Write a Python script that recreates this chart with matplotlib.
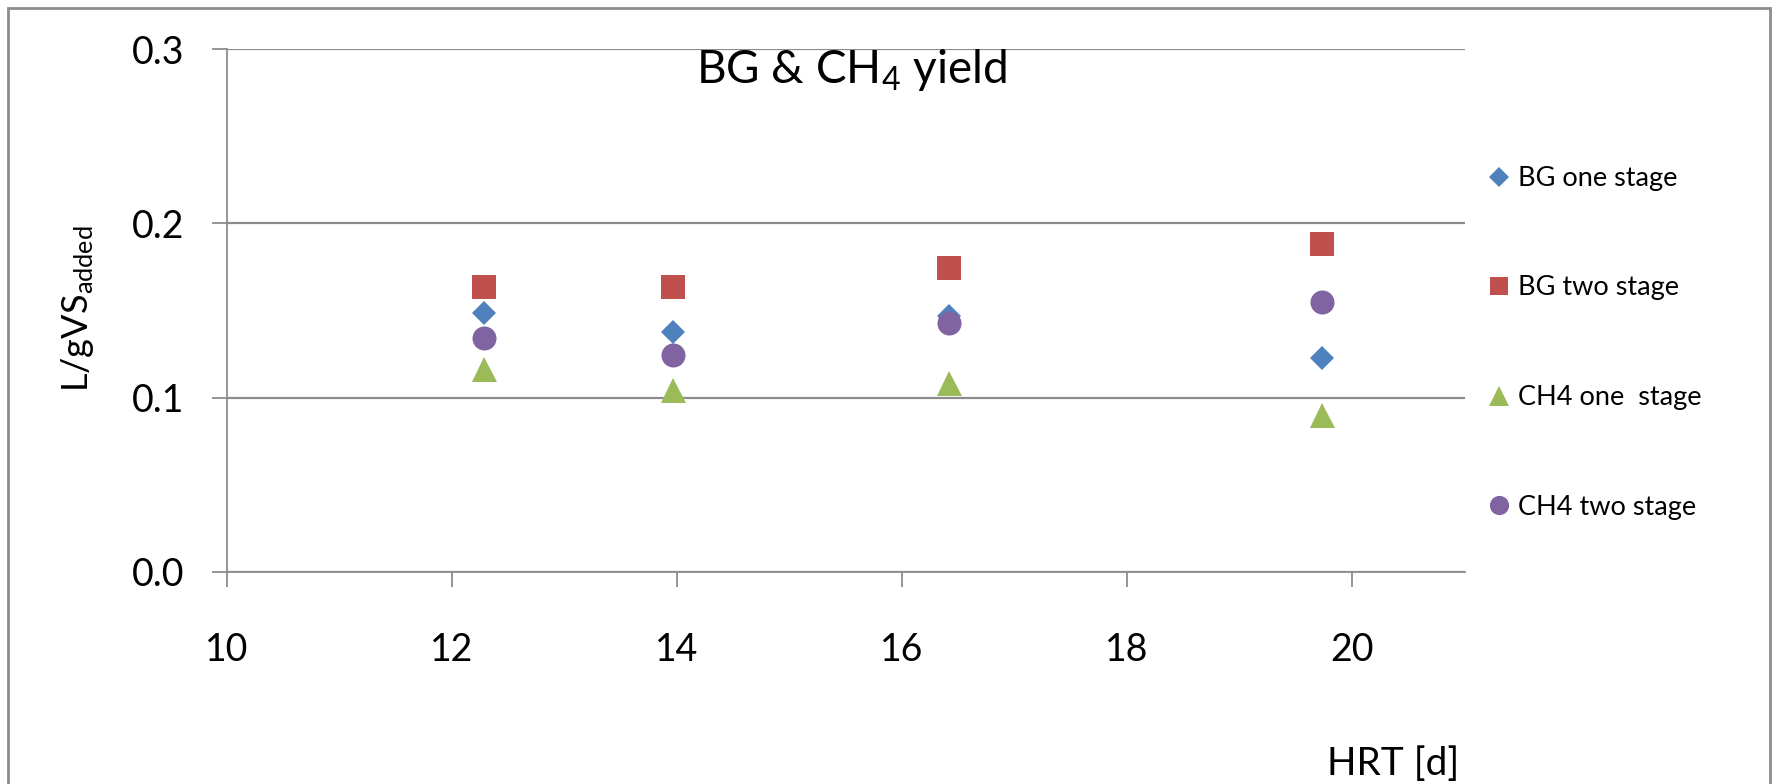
import matplotlib
matplotlib.use("Agg")
import matplotlib.pyplot as plt
from matplotlib.patches import Rectangle

plt.rcParams["font.family"] = ["Lato", "DejaVu Sans"]
plt.rcParams["mathtext.default"] = "regular"

# HRT [d] and yields [L/gVS added]
hrt = [12.29, 13.97, 16.42, 19.73]
bg_one = [0.1488, 0.1377, 0.1469, 0.1228]
bg_two = [0.1635, 0.1635, 0.1744, 0.1884]
ch4_one = [0.1165, 0.1044, 0.1084, 0.0901]
ch4_two = [0.1344, 0.1245, 0.1430, 0.1549]

series = [
    ("BG one stage", bg_one, "D", 12.7, "#4F81BD"),
    ("BG two stage", bg_two, "s", 17.0, "#C0504D"),
    ("CH4 one  stage", ch4_one, "^", 18.0, "#9BBB59"),
    ("CH4 two stage", ch4_two, "o", 17.3, "#8064A2"),
]

grey = "#8C8C8C"

fig = plt.figure(figsize=(17.77, 7.84), dpi=100)
ax = fig.add_axes([226.5 / 1777, 1 - 572 / 784, (1465 - 226.5) / 1777, 523 / 784])

for label, vals, mk, ms, col in series:
    ax.plot(hrt, vals, linestyle="none", marker=mk, markersize=ms,
            color=col, markeredgewidth=0, label=label, clip_on=False)

ax.set_xlim(10, 21)
ax.set_ylim(0, 0.3)
ax.set_xticks([10, 12, 14, 16, 18, 20])
ax.set_yticks([0.0, 0.1, 0.2, 0.3])
ax.set_yticklabels(["0.0", "0.1", "0.2", "0.3"])
ax.yaxis.grid(True, color=grey, linewidth=1.6)
ax.set_axisbelow(True)

for side in ["top", "right"]:
    ax.spines[side].set_visible(False)
for side in ["left", "bottom"]:
    ax.spines[side].set_color(grey)
    ax.spines[side].set_linewidth(1.3)

ax.tick_params(axis="both", direction="out", length=10.5, width=1.3,
               color=grey, labelsize=27)
ax.tick_params(axis="y", pad=20)
ax.tick_params(axis="x", pad=33)

fig.text(78 / 1777, 1 - 309 / 784, "L/gVS$_{added}$", fontsize=26,
         rotation=90, ha="center", va="center")
fig.text(852 / 1777, 1 - 83 / 784, "BG & CH$_4$ yield", fontsize=33,
         ha="center", va="baseline")
fig.text(1459 / 1777, 1 - 775 / 784, "HRT [d]", fontsize=28,
         ha="right", va="baseline")

fig.legend(loc="upper left", bbox_to_anchor=(1485 / 1777, 1 - 166 / 784),
           frameon=False, fontsize=19.5, markerscale=0.8, labelspacing=3.12,
           handlelength=1.0, handletextpad=0.2, borderpad=0, borderaxespad=0)

# chart border
fig.patches.append(Rectangle((8 / 1777, -0.1), (1770 - 8) / 1777, 1.1 - 8 / 784,
                             transform=fig.transFigure, fill=False,
                             edgecolor=grey, linewidth=2))

fig.savefig("out.png", dpi=100)
